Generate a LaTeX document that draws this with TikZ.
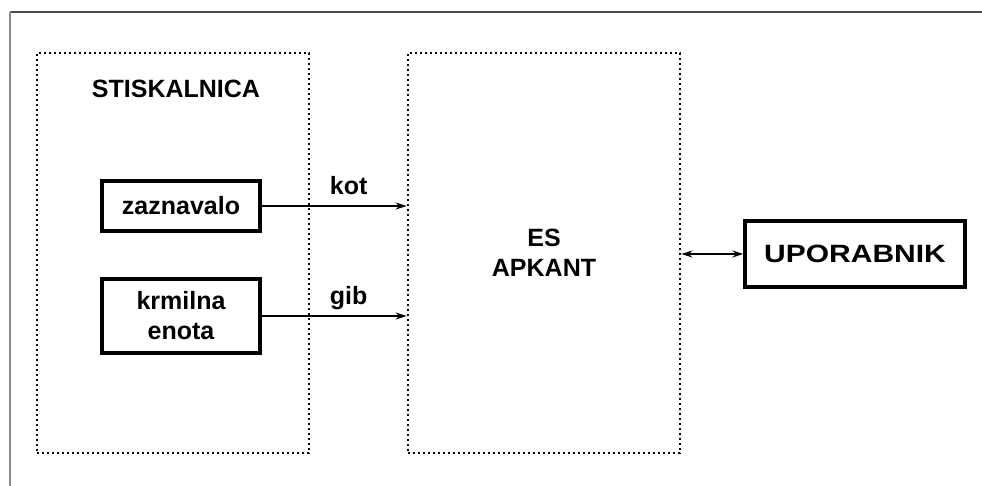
\documentclass[tikz,border=0pt]{standalone}
\usepackage{fontspec}
\setmainfont{Liberation Sans}
\usetikzlibrary{arrows.meta}
\tikzset{
  napis/.style={font=\bfseries\fontsize{25}{30}\selectfont, align=center},
  blok/.style={draw, line width=3.4pt, inner sep=0pt, napis},
  skupina/.style={draw, line width=2.6pt, dash pattern=on 2.4pt off 2.6pt, inner sep=0pt,
    minimum width=272pt, minimum height=400pt, napis},
  puscica/.style={line width=2.2pt, -{Stealth[length=11pt,width=7pt]}},
}
\begin{document}
\begin{tikzpicture}[x=1pt,y=-1pt]
  \useasboundingbox (0,0) rectangle (982,486);
  % okvir
  \draw[line width=1.6pt, black!70] (10,12) -- (982,12);
  \draw[line width=1.6pt, black!45] (10,12) -- (10,486);
  \node[skupina] (stiskalnica) at (173,253) {};
  \node[skupina] (es) at (544,253) {ES\\APKANT};
  \node[napis, anchor=base] (naslov) at (176,98) {STISKALNICA};
  \node[blok, minimum width=158pt, minimum height=50pt] (zaznavalo) at (181,206) {zaznavalo};
  \node[blok, minimum width=158pt, minimum height=74pt] (krmilna) at (181,316) {krmilna\\enota};
  \node[blok, minimum width=220pt, minimum height=66pt] (uporabnik) at (855,254)
    {\scalebox{1.2}[1]{UPORABNIK}};
  \draw[puscica] (zaznavalo.east) -- (zaznavalo.east -| es.west)
    node[napis, pos=0.6, anchor=base, yshift=11pt] (kot) {kot};
  \draw[puscica] (krmilna.east) -- (krmilna.east -| es.west)
    node[napis, pos=0.6, anchor=base, yshift=11pt] (gib) {gib};
  \draw[line width=2.2pt, {Stealth[length=11pt,width=7pt]}-{Stealth[length=11pt,width=7pt]}]
    (uporabnik.west -| es.east) -- (uporabnik.west);
\end{tikzpicture}
\end{document}
